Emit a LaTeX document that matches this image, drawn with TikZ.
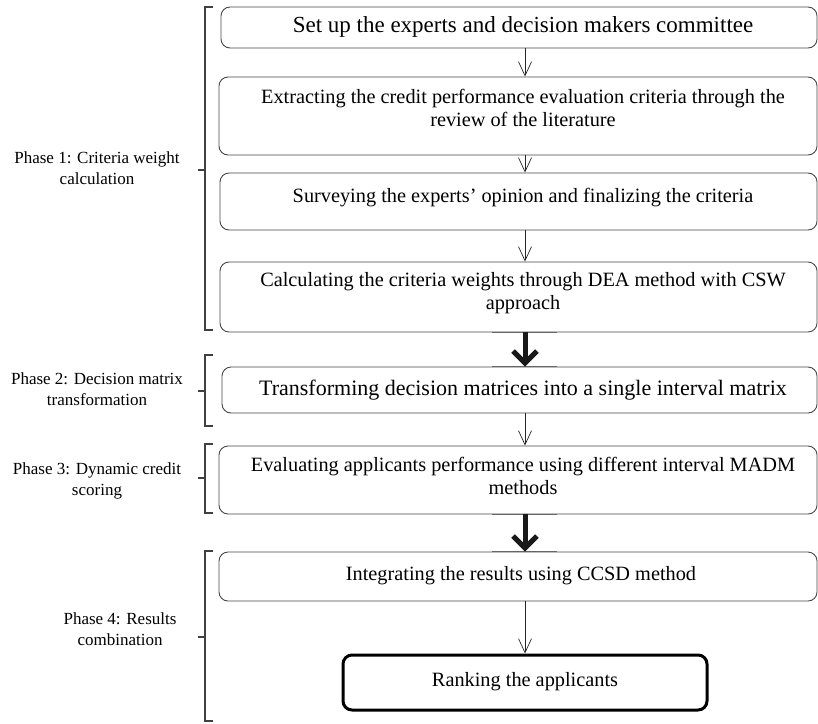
\documentclass[tikz,border=0pt]{standalone}
\usepackage{fontspec}
\setmainfont{Liberation Serif}
\usetikzlibrary{arrows.meta}
\definecolor{boxgray}{RGB}{70,70,70}
\begin{document}
\begin{tikzpicture}[x=1pt,y=-1pt,
  box/.style={draw=boxgray, line width=0.9pt, rounded corners=9pt, inner sep=0pt},
  endbox/.style={draw=black, line width=3pt, rounded corners=9pt, inner sep=0pt},
  txt/.style={align=center, inner sep=0pt, font=\fontsize{20.3}{23}\selectfont},
  bigtxt/.style={align=center, inner sep=0pt, font=\fontsize{23}{26}\selectfont},
  midtxt/.style={align=center, inner sep=0pt, font=\fontsize{22}{25}\selectfont},
  thinarrow/.style={draw=black!85, line width=0.7pt, -{Straight Barb[length=14pt,width=13pt]}},
  thickarrow/.style={draw=black!90, line width=5pt, -{Straight Barb[length=12pt,width=24pt]}},
  seg/.style={draw=black!60, line width=1.6pt},
  brk/.style={draw=black!75, line width=1.4pt},
  phase/.style={align=center, inner sep=0pt, font=\fontsize{17}{21}\selectfont}]
\useasboundingbox (0,0) rectangle (818,723);
\clip (0,0) rectangle (818,723);

% boxes
\node[box, minimum width=596pt, minimum height=41pt] (b1) at (519,27.5) {};
\node[box, minimum width=598pt, minimum height=78pt] (b2) at (518,116) {};
\node[box, minimum width=597pt, minimum height=57pt] (b3) at (518.5,201.5) {};
\node[box, minimum width=597pt, minimum height=70pt] (b4) at (518.5,297) {};
\node[box, minimum width=595pt, minimum height=46pt] (b5) at (519.5,390) {};
\node[box, minimum width=598pt, minimum height=68pt] (b6) at (518,480) {};
\node[box, minimum width=598pt, minimum height=49pt] (b7) at (518,576.5) {};
\node[endbox, minimum width=364pt, minimum height=55pt] (b8) at (525,682.5) {};

% texts
\node[bigtxt] (t1) at (523,27) {Set up the experts and decision makers committee};
\node[txt] (t2) at (523,108) {Extracting the credit performance evaluation criteria through the\\review of the literature};
\node[txt] (t3) at (523,198) {Surveying the experts’ opinion and finalizing the criteria};
\node[txt] (t4) at (523,293) {Calculating the criteria weights through DEA method with CSW\\approach};
\node[midtxt] (t5) at (523,390) {Transforming decision matrices into a single interval matrix};
\node[txt] (t6) at (523,476) {Evaluating applicants performance using different interval MADM\\methods};
\node[txt] (t7) at (521,576) {Integrating the results using CCSD method};
\node[txt] (t8) at (525,682) {Ranking the applicants};

% arrows
\coordinate (ax) at (525,0);
\coordinate (s1) at (492,0);
\coordinate (s2) at (557,0);
\draw[thinarrow] (b1.south -| ax) -- (b2.north -| ax);
\draw[thinarrow] (b2.south -| ax) -- (b3.north -| ax);
\draw[thinarrow] (b3.south -| ax) -- (b4.north -| ax);
\draw[thinarrow] (b5.south -| ax) -- (b6.north -| ax);
\draw[thinarrow] (b7.south -| ax) -- (b8.north -| ax);
\draw[seg] (b4.south -| s1) -- (b4.south -| s2);
\draw[seg] (b5.north -| s1) -- (b5.north -| s2);
\draw[seg] (b6.south -| s1) -- (b6.south -| s2);
\draw[seg] (b7.north -| s1) -- (b7.north -| s2);
\draw[thickarrow] (b4.south -| ax) -- (b5.north -| ax);
\draw[thickarrow] (b6.south -| ax) -- (b7.north -| ax);

% brackets
\draw[brk] (213,7) -- (205,7) -- (205,330) -- (213,330);
\draw[brk] (205,170) -- (198,170);
\draw[brk] (213,355) -- (205,355) -- (205,426) -- (213,426);
\draw[brk] (205,391) -- (198,391);
\draw[brk] (213,444) -- (205,444) -- (205,513) -- (213,513);
\draw[brk] (205,478) -- (198,478);
\draw[brk] (213,551) -- (205,551) -- (205,721) -- (213,721);
\draw[brk] (205,637) -- (198,637);

% phase labels
\node[phase] (p1) at (97,168) {Phase 1: Criteria weight\\calculation};
\node[phase] (p2) at (97,389) {Phase 2: Decision matrix\\transformation};
\node[phase] (p3) at (97,481) {Phase 3: Dynamic credit\\scoring};
\node[phase] (p4) at (120,629) {Phase 4: Results\\combination};
\end{tikzpicture}
\end{document}
